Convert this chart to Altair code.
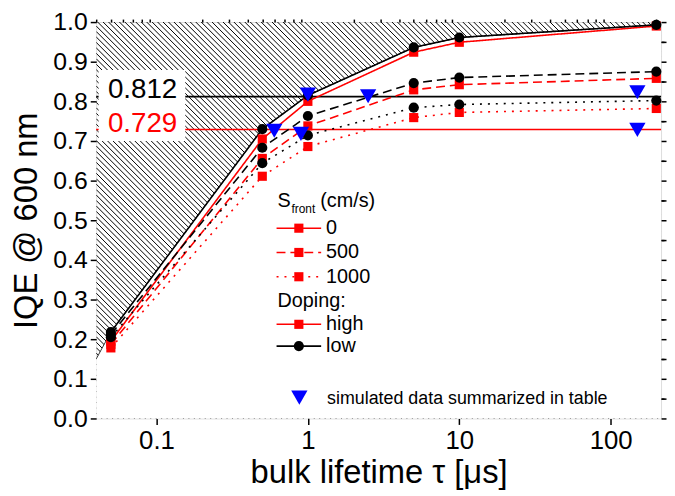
import altair as alt
import pandas as pd

# ---------------- data ----------------
tau = [0.05, 0.5, 1, 5, 10, 200]
iqe_high_s0 = [0.195, 0.705, 0.800, 0.924, 0.949, 0.990]
iqe_high_s500 = [0.187, 0.656, 0.738, 0.829, 0.842, 0.858]
iqe_high_s1000 = [0.178, 0.611, 0.686, 0.759, 0.772, 0.782]
iqe_low_s0 = [0.218, 0.730, 0.815, 0.936, 0.961, 0.993]
iqe_low_s500 = [0.212, 0.683, 0.763, 0.846, 0.860, 0.875]
iqe_low_s1000 = [0.205, 0.644, 0.714, 0.784, 0.792, 0.802]

sim_tau = [0.6, 0.9, 1, 2.5, 150, 150]
sim_iqe = [0.726, 0.718, 0.817, 0.813, 0.823, 0.728]

ref_values = [0.812, 0.729]
ref_labels = ["0.812", "0.729"]
ref_colors = ["black", "red"]
ref_label_y = [0.829, 0.743]

bound_tau = [0.04, 0.05, 0.5, 1, 5, 10, 200, 215]
bound_iqe = [0.15, 0.218, 0.730, 0.815, 0.936, 0.961, 0.993, 0.994]

x_ticks_major = [0.1, 1, 10, 100]
x_ticks_minor = [0.04, 0.05, 0.06, 0.07, 0.08, 0.09,
                 0.2, 0.3, 0.4, 0.5, 0.6, 0.7, 0.8, 0.9,
                 2, 3, 4, 5, 6, 7, 8, 9,
                 20, 30, 40, 50, 60, 70, 80, 90, 200]
y_ticks_major = [0.0, 0.1, 0.2, 0.3, 0.4, 0.5, 0.6, 0.7, 0.8, 0.9, 1.0]
y_ticks_minor = [0.05, 0.15, 0.25, 0.35, 0.45, 0.55, 0.65, 0.75, 0.85, 0.95]

# ---------------- layout ----------------
W, H = 570, 400
XMIN, XMAX = 0.04, 215
FONT = "Liberation Sans"
RED, BLUE = "#ff0000", "#0000ff"

xs = alt.Scale(type="log", domain=[XMIN, XMAX], nice=False)
ys = alt.Scale(domain=[0, 1], nice=False, zero=False)

one = pd.DataFrame({"x": [1.0], "y": [0.5]})

# hatch pattern (decoration): diagonal lines about 5.5 px apart
step = 5.5 / H
drop = W / H
hatch_c = [i * step for i in range(int((1 + drop) / step) + 2)]
hatch_df = pd.DataFrame({"x": XMIN, "x2": XMAX, "y": hatch_c,
                         "y2": [c - drop for c in hatch_c]})
hatch = alt.Chart(hatch_df).mark_rule(color="black", strokeWidth=1.0, clip=True).encode(
    x=alt.X("x:Q", scale=xs, axis=None), x2="x2:Q",
    y=alt.Y("y:Q", scale=ys, axis=None), y2="y2:Q")

bdf = pd.DataFrame({"tau": bound_tau, "iqe": bound_iqe, "base": 0.0})
white_area = alt.Chart(bdf).mark_area(color="white", opacity=1, clip=True).encode(
    x=alt.X("tau:Q", scale=xs, axis=None),
    y=alt.Y("iqe:Q", scale=ys, axis=None), y2="base:Q")
bound_line = alt.Chart(bdf).mark_line(color="black", strokeWidth=0.8, clip=True).encode(
    x=alt.X("tau:Q", scale=xs, axis=None),
    y=alt.Y("iqe:Q", scale=ys, axis=None))

rdf = pd.DataFrame({"v": ref_values, "label": ref_labels, "c": ref_colors, "ly": ref_label_y})
ref_lines = alt.Chart(rdf).mark_rule(strokeWidth=1.6).encode(
    y=alt.Y("v:Q", scale=ys, axis=None), color=alt.Color("c:N", scale=None))

box_df = pd.DataFrame({"x": [0.0415], "x2": [0.155], "y": [0.70], "y2": [0.879]})
box = alt.Chart(box_df).mark_rect(fill="white").encode(
    x=alt.X("x:Q", scale=xs, axis=None), x2="x2:Q",
    y=alt.Y("y:Q", scale=ys, axis=None), y2="y2:Q")

ref_text = alt.Chart(rdf.assign(lx=0.081)).mark_text(
    font=FONT, fontSize=28, align="center", baseline="middle").encode(
    x=alt.X("lx:Q", scale=xs, axis=None), y=alt.Y("ly:Q", scale=ys, axis=None),
    text="label:N", color=alt.Color("c:N", scale=None))

series = [
    (iqe_high_s0, RED, [1, 0], "square"),
    (iqe_high_s500, RED, [9, 5], "square"),
    (iqe_high_s1000, RED, [2, 6], "square"),
    (iqe_low_s0, "black", [1, 0], "circle"),
    (iqe_low_s500, "black", [9, 5], "circle"),
    (iqe_low_s1000, "black", [2, 6], "circle"),
]
SQ, CI, TRI = 85, 105, 270
series_layers = []
for vals, col, dash, shape in series:
    d = pd.DataFrame({"tau": tau, "iqe": vals})
    base = alt.Chart(d).encode(x=alt.X("tau:Q", scale=xs, axis=None),
                               y=alt.Y("iqe:Q", scale=ys, axis=None))
    series_layers.append(base.mark_line(color=col, strokeWidth=1.6, strokeDash=dash))
for vals, col, dash, shape in series:
    d = pd.DataFrame({"tau": tau, "iqe": vals})
    base = alt.Chart(d).encode(x=alt.X("tau:Q", scale=xs, axis=None),
                               y=alt.Y("iqe:Q", scale=ys, axis=None))
    if shape == "square":
        series_layers.append(base.mark_square(color=col, size=SQ, opacity=1))
    else:
        series_layers.append(base.mark_circle(color=col, size=CI, opacity=1))

sdf = pd.DataFrame({"tau": sim_tau, "iqe": sim_iqe})
sim = alt.Chart(sdf).mark_point(shape="triangle-down", filled=True, color=BLUE,
                                size=TRI, opacity=1).encode(
    x=alt.X("tau:Q", scale=xs, axis=None), y=alt.Y("iqe:Q", scale=ys, axis=None))

# ---------------- axes ----------------
ax_common = dict(grid=False, domain=False, tickColor="black", tickWidth=1.5,
                 labelColor="black", labelFont=FONT, titleFont=FONT,
                 titleColor="black", titleFontWeight="normal")
axis_main = alt.Chart(one).mark_point(opacity=0).encode(
    x=alt.X("x:Q", scale=xs, axis=alt.Axis(
        values=x_ticks_major, format="~g", tickSize=6, labelFontSize=26,
        labelPadding=3, title="bulk lifetime τ [μs]", titleFontSize=33,
        titlePadding=4, **ax_common)),
    y=alt.Y("y:Q", scale=ys, axis=alt.Axis(
        values=y_ticks_major, format=".1f", tickSize=6, labelFontSize=25,
        labelPadding=3, title="IQE @ 600 nm", titleFontSize=33,
        titlePadding=9, **ax_common)))
axis_minor = alt.Chart(one).mark_point(opacity=0).encode(
    x=alt.X("x:Q", scale=xs, axis=alt.Axis(
        values=x_ticks_minor, tickSize=3, labels=False, title=None, **ax_common)),
    y=alt.Y("y:Q", scale=ys, axis=alt.Axis(
        values=y_ticks_minor, tickSize=3, labels=False, title=None, **ax_common)))
axis_right = alt.Chart(one).mark_point(opacity=0).encode(
    x=alt.X("x:Q", scale=xs, axis=None),
    y=alt.Y("y:Q", scale=ys, axis=alt.Axis(
        values=y_ticks_major + y_ticks_minor, orient="right", tickSize=5,
        labels=False, title=None, **ax_common)))

# ---------------- legend (pixel positions inside plot) ----------------
def txt(s, x, y, size=19, color="black", baseline="middle"):
    return alt.Chart(one).mark_text(text=s, font=FONT, fontSize=size, align="left",
                                    baseline=baseline, color=color).encode(
        x=alt.value(x), y=alt.value(y))

def seg(x1, x2, y, color, dash):
    return alt.Chart(one).mark_rule(color=color, strokeWidth=1.6, strokeDash=dash).encode(
        x=alt.value(x1), x2=alt.value(x2), y=alt.value(y))

leg = []
leg.append(txt("S", 183, 187, size=20, baseline="alphabetic"))
leg.append(txt("front", 197, 193, size=12, baseline="alphabetic"))
leg.append(txt("(cm/s)", 226, 187, size=20, baseline="alphabetic"))
rows = [("0", 208, RED, [1, 0], "square"),
        ("500", 232.5, RED, [9, 5], "square"),
        ("1000", 257, RED, [2, 6], "square"),
        ("high", 305, RED, [1, 0], "square"),
        ("low", 327, "black", [1, 0], "circle")]
for label, y, col, dash, shape in rows:
    leg.append(seg(182, 227, y, col, dash))
    if shape == "square":
        leg.append(alt.Chart(one).mark_square(color=col, size=SQ, opacity=1).encode(
            x=alt.value(204.5), y=alt.value(y)))
    else:
        leg.append(alt.Chart(one).mark_circle(color=col, size=CI, opacity=1).encode(
            x=alt.value(204.5), y=alt.value(y)))
    leg.append(txt(label, 232, y, size=20))
leg.append(txt("Doping:", 183, 281.5, size=20))
leg.append(alt.Chart(one).mark_point(shape="triangle-down", filled=True, color=BLUE,
                                     size=TRI, opacity=1).encode(
    x=alt.value(205), y=alt.value(379)))
leg.append(txt("simulated data summarized in table", 233, 380, size=18))

chart = alt.layer(
    hatch, white_area, bound_line, ref_lines, box, ref_text,
    *series_layers, sim,
    axis_main, axis_minor, axis_right,
    *leg
).resolve_axis(x="independent", y="independent").properties(
    width=W, height=H,
    autosize=alt.AutoSizeParams(type="none"),
    padding={"left": 89, "top": 12, "right": 6, "bottom": 70},
).configure_view(stroke="black", strokeWidth=1.5).configure(background="white")

chart.save("out.html", embed_options={"renderer": "svg", "actions": False})
